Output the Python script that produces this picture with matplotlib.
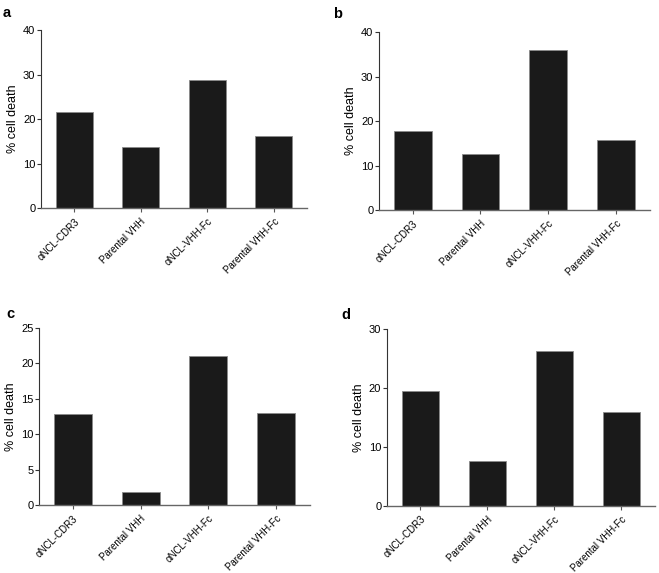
import matplotlib.pyplot as plt

plt.rcParams['font.family'] = ['Liberation Sans', 'DejaVu Sans']

categories = ['αNCL-CDR3', 'Parental VHH', 'αNCL-VHH-Fc', 'Parental VHH-Fc']

vals_a = [21.5, 13.8, 28.8, 16.1]
vals_b = [17.7, 12.5, 35.9, 15.8]
vals_c = [12.8, 1.9, 21.0, 12.95]
vals_d = [19.5, 7.6, 26.3, 16.0]

panels = [
    # letter, values, ymax, yticks, axes rect, letter position
    ('a', vals_a, 40, [0, 10, 20, 30, 40], [0.0622, 0.637, 0.4036, 0.3106], (0.004, 0.99)),
    ('b', vals_b, 40, [0, 10, 20, 30, 40], [0.575, 0.6335, 0.411, 0.3106], (0.506, 0.987)),
    ('c', vals_c, 25, [0, 5, 10, 15, 20, 25], [0.0592, 0.1187, 0.411, 0.309], (0.01, 0.465)),
    ('d', vals_d, 30, [0, 10, 20, 30], [0.587, 0.117, 0.4067, 0.309], (0.518, 0.462)),
]

fig = plt.figure(figsize=(6.59, 5.73), dpi=100)

for letter, vals, ymax, yticks, rect, lpos in panels:
    ax = fig.add_axes(rect)
    x = range(len(categories))
    ax.bar(x, vals, width=0.56, color='#1a1a1a', edgecolor='#8a8a8a', linewidth=0.6)
    ax.set_xlim(-0.5, 3.5)
    ax.set_ylim(0, ymax)
    ax.set_yticks(yticks)
    ax.set_xticks(list(x))
    ax.set_xticklabels(categories, rotation=45, ha='right', rotation_mode='anchor', fontsize=7)
    ax.tick_params(axis='y', labelsize=8, length=3, width=0.8, color='#333333', pad=1)
    ax.tick_params(axis='x', length=3, width=0.8, color='#555555', pad=3)
    ax.set_ylabel('% cell death', fontsize=9, labelpad=3)
    for side in ['top', 'right']:
        ax.spines[side].set_visible(False)
    ax.spines['left'].set_color('#333333')
    ax.spines['bottom'].set_color('#666666')
    ax.spines['left'].set_linewidth(0.8)
    ax.spines['bottom'].set_linewidth(1.0)
    fig.text(lpos[0], lpos[1], letter, fontsize=10.5, fontweight='bold', va='top', ha='left')

fig.savefig('out.png', dpi=100)
